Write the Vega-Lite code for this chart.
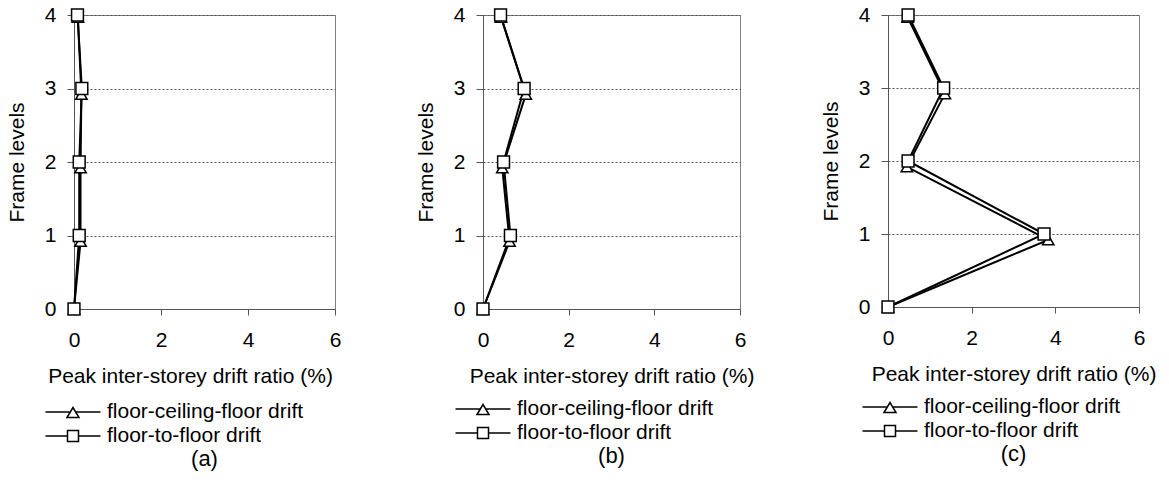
{
  "$schema": "https://vega.github.io/schema/vega-lite/v6.json",
  "background": "white",
  "padding": {"left": 5, "top": 3, "right": 5, "bottom": 5},
  "bounds": "flush",
  "spacing": 148,
  "datasets": {
    "d": [
      {"panel": "a", "series": "floor-ceiling-floor drift", "x": 0, "y": 0},
      {"panel": "a", "series": "floor-ceiling-floor drift", "x": 0.15, "y": 0.92},
      {"panel": "a", "series": "floor-ceiling-floor drift", "x": 0.15, "y": 1.92},
      {"panel": "a", "series": "floor-ceiling-floor drift", "x": 0.17, "y": 2.92},
      {"panel": "a", "series": "floor-ceiling-floor drift", "x": 0.09, "y": 3.97},
      {"panel": "a", "series": "floor-to-floor drift", "x": 0, "y": 0},
      {"panel": "a", "series": "floor-to-floor drift", "x": 0.12, "y": 1},
      {"panel": "a", "series": "floor-to-floor drift", "x": 0.12, "y": 2},
      {"panel": "a", "series": "floor-to-floor drift", "x": 0.18, "y": 3},
      {"panel": "a", "series": "floor-to-floor drift", "x": 0.08, "y": 4},
      {"panel": "b", "series": "floor-ceiling-floor drift", "x": 0, "y": 0},
      {"panel": "b", "series": "floor-ceiling-floor drift", "x": 0.62, "y": 0.92},
      {"panel": "b", "series": "floor-ceiling-floor drift", "x": 0.45, "y": 1.92},
      {"panel": "b", "series": "floor-ceiling-floor drift", "x": 1.0, "y": 2.92},
      {"panel": "b", "series": "floor-ceiling-floor drift", "x": 0.42, "y": 3.97},
      {"panel": "b", "series": "floor-to-floor drift", "x": 0, "y": 0},
      {"panel": "b", "series": "floor-to-floor drift", "x": 0.64, "y": 1},
      {"panel": "b", "series": "floor-to-floor drift", "x": 0.48, "y": 2},
      {"panel": "b", "series": "floor-to-floor drift", "x": 0.96, "y": 3},
      {"panel": "b", "series": "floor-to-floor drift", "x": 0.41, "y": 4},
      {"panel": "c", "series": "floor-ceiling-floor drift", "x": 0, "y": 0},
      {"panel": "c", "series": "floor-ceiling-floor drift", "x": 3.83, "y": 0.92},
      {"panel": "c", "series": "floor-ceiling-floor drift", "x": 0.45, "y": 1.92},
      {"panel": "c", "series": "floor-ceiling-floor drift", "x": 1.36, "y": 2.92},
      {"panel": "c", "series": "floor-ceiling-floor drift", "x": 0.47, "y": 3.97},
      {"panel": "c", "series": "floor-to-floor drift", "x": 0, "y": 0},
      {"panel": "c", "series": "floor-to-floor drift", "x": 3.73, "y": 1},
      {"panel": "c", "series": "floor-to-floor drift", "x": 0.48, "y": 2},
      {"panel": "c", "series": "floor-to-floor drift", "x": 1.33, "y": 3},
      {"panel": "c", "series": "floor-to-floor drift", "x": 0.48, "y": 4}
    ]
  },
  "resolve": {"scale": {"shape": "independent"}, "legend": {"shape": "independent"}},
  "hconcat": [
    {
      "width": 261, "height": 294,
      "title": {"text": "(a)"},
      "data": {"name": "d"},
      "transform": [{"filter": "datum.panel == 'a'"}],
      "encoding": {
        "x": {"field": "x", "type": "quantitative", "scale": {"domain": [0, 6], "nice": false}, "axis": {"title": "Peak inter-storey drift ratio (%)", "values": [0, 2, 4, 6], "titleX": 116, "titleAlign": "center"}},
        "y": {"field": "y", "type": "quantitative", "scale": {"domain": [0, 4], "nice": false}, "axis": {"title": "Frame levels", "values": [0, 1, 2, 3, 4]}}
      },
      "layer": [
        {"transform": [{"filter": "datum.series == 'floor-ceiling-floor drift'"}], "mark": {"type": "line", "color": "black", "strokeWidth": 2}, "encoding": {"order": {"field": "y", "type": "quantitative"}}},
        {"transform": [{"filter": "datum.series == 'floor-to-floor drift'"}], "mark": {"type": "line", "color": "black", "strokeWidth": 2}, "encoding": {"order": {"field": "y", "type": "quantitative"}}},
        {"transform": [{"filter": "false"}], "mark": {"type": "point", "filled": false, "color": "black", "strokeWidth": 1.5, "size": 400},
         "encoding": {"shape": {"field": "series", "type": "nominal", "scale": {"domain": ["floor-ceiling-floor drift", "floor-to-floor drift"], "range": ["M-2.75,0L-0.27,0M0.27,0L2.75,0M-0.6,0.55L0,-0.45L0.6,0.55Z", "M-2.75,0L-0.55,0M0.55,0L2.75,0M-0.55,-0.55L0.55,-0.55L0.55,0.55L-0.55,0.55Z"]}, "legend": {"orient": "none", "legendX": -12, "legendY": 386}}}},
        {"transform": [{"filter": "datum.series == 'floor-ceiling-floor drift'"}], "mark": {"type": "point", "shape": "triangle-up", "filled": true, "fill": "white", "stroke": "black", "strokeWidth": 1.5, "size": 130, "opacity": 1}},
        {"transform": [{"filter": "datum.series == 'floor-to-floor drift'"}], "mark": {"type": "point", "shape": "square", "filled": true, "fill": "white", "stroke": "black", "strokeWidth": 1.5, "size": 140, "opacity": 1}}
      ]
    },
    {
      "width": 257, "height": 294,
      "title": {"text": "(b)"},
      "data": {"name": "d"},
      "transform": [{"filter": "datum.panel == 'b'"}],
      "encoding": {
        "x": {"field": "x", "type": "quantitative", "scale": {"domain": [0, 6], "nice": false}, "axis": {"title": "Peak inter-storey drift ratio (%)", "values": [0, 2, 4, 6]}},
        "y": {"field": "y", "type": "quantitative", "scale": {"domain": [0, 4], "nice": false}, "axis": {"title": "Frame levels", "values": [0, 1, 2, 3, 4]}}
      },
      "layer": [
        {"transform": [{"filter": "datum.series == 'floor-ceiling-floor drift'"}], "mark": {"type": "line", "color": "black", "strokeWidth": 2}, "encoding": {"order": {"field": "y", "type": "quantitative"}}},
        {"transform": [{"filter": "datum.series == 'floor-to-floor drift'"}], "mark": {"type": "line", "color": "black", "strokeWidth": 2}, "encoding": {"order": {"field": "y", "type": "quantitative"}}},
        {"transform": [{"filter": "false"}], "mark": {"type": "point", "filled": false, "color": "black", "strokeWidth": 1.5, "size": 400},
         "encoding": {"shape": {"field": "series", "type": "nominal", "scale": {"domain": ["floor-ceiling-floor drift", "floor-to-floor drift"], "range": ["M-2.75,0L-0.27,0M0.27,0L2.75,0M-0.6,0.55L0,-0.45L0.6,0.55Z", "M-2.75,0L-0.55,0M0.55,0L2.75,0M-0.55,-0.55L0.55,-0.55L0.55,0.55L-0.55,0.55Z"]}, "legend": {"orient": "none", "legendX": -11, "legendY": 383}}}},
        {"transform": [{"filter": "datum.series == 'floor-ceiling-floor drift'"}], "mark": {"type": "point", "shape": "triangle-up", "filled": true, "fill": "white", "stroke": "black", "strokeWidth": 1.5, "size": 130, "opacity": 1}},
        {"transform": [{"filter": "datum.series == 'floor-to-floor drift'"}], "mark": {"type": "point", "shape": "square", "filled": true, "fill": "white", "stroke": "black", "strokeWidth": 1.5, "size": 140, "opacity": 1}}
      ]
    },
    {
      "width": 251, "height": 292,
      "title": {"text": "(c)"},
      "data": {"name": "d"},
      "transform": [{"filter": "datum.panel == 'c'"}],
      "encoding": {
        "x": {"field": "x", "type": "quantitative", "scale": {"domain": [0, 6], "nice": false}, "axis": {"title": "Peak inter-storey drift ratio (%)", "values": [0, 2, 4, 6]}},
        "y": {"field": "y", "type": "quantitative", "scale": {"domain": [0, 4], "nice": false}, "axis": {"title": "Frame levels", "values": [0, 1, 2, 3, 4]}}
      },
      "layer": [
        {"transform": [{"filter": "datum.series == 'floor-ceiling-floor drift'"}], "mark": {"type": "line", "color": "black", "strokeWidth": 2}, "encoding": {"order": {"field": "y", "type": "quantitative"}}},
        {"transform": [{"filter": "datum.series == 'floor-to-floor drift'"}], "mark": {"type": "line", "color": "black", "strokeWidth": 2}, "encoding": {"order": {"field": "y", "type": "quantitative"}}},
        {"transform": [{"filter": "false"}], "mark": {"type": "point", "filled": false, "color": "black", "strokeWidth": 1.5, "size": 400},
         "encoding": {"shape": {"field": "series", "type": "nominal", "scale": {"domain": ["floor-ceiling-floor drift", "floor-to-floor drift"], "range": ["M-2.75,0L-0.27,0M0.27,0L2.75,0M-0.6,0.55L0,-0.45L0.6,0.55Z", "M-2.75,0L-0.55,0M0.55,0L2.75,0M-0.55,-0.55L0.55,-0.55L0.55,0.55L-0.55,0.55Z"]}, "legend": {"orient": "none", "legendX": -9, "legendY": 381}}}},
        {"transform": [{"filter": "datum.series == 'floor-ceiling-floor drift'"}], "mark": {"type": "point", "shape": "triangle-up", "filled": true, "fill": "white", "stroke": "black", "strokeWidth": 1.5, "size": 130, "opacity": 1}},
        {"transform": [{"filter": "datum.series == 'floor-to-floor drift'"}], "mark": {"type": "point", "shape": "square", "filled": true, "fill": "white", "stroke": "black", "strokeWidth": 1.5, "size": 140, "opacity": 1}}
      ]
    }
  ],
  "config": {
    "font": "Liberation Sans",
    "view": {"stroke": "#808080", "strokeWidth": 1},
    "title": {"orient": "bottom", "anchor": "middle", "fontSize": 22, "fontWeight": "normal", "color": "black", "offset": 3},
    "axis": {"labelFontSize": 21, "titleFontSize": 21, "titleFontWeight": "normal", "labelColor": "black", "titleColor": "black", "domainColor": "#555555", "tickColor": "#555555", "labelFlush": false, "labelOverlap": false},
    "axisX": {"grid": false, "tickSize": 6, "labelPadding": 14, "titlePadding": 15},
    "axisY": {"grid": true, "gridColor": "#555555", "gridDash": [2, 2], "gridWidth": 1, "tickSize": 7, "labelPadding": 11, "titlePadding": 17},
    "legend": {"title": null, "labelFontSize": 21, "labelColor": "black", "labelOffset": 23, "rowPadding": 3, "symbolSize": 400, "symbolStrokeWidth": 1.5, "symbolStrokeColor": "black", "symbolOpacity": 1, "labelLimit": 400, "padding": 0}
  }
}
